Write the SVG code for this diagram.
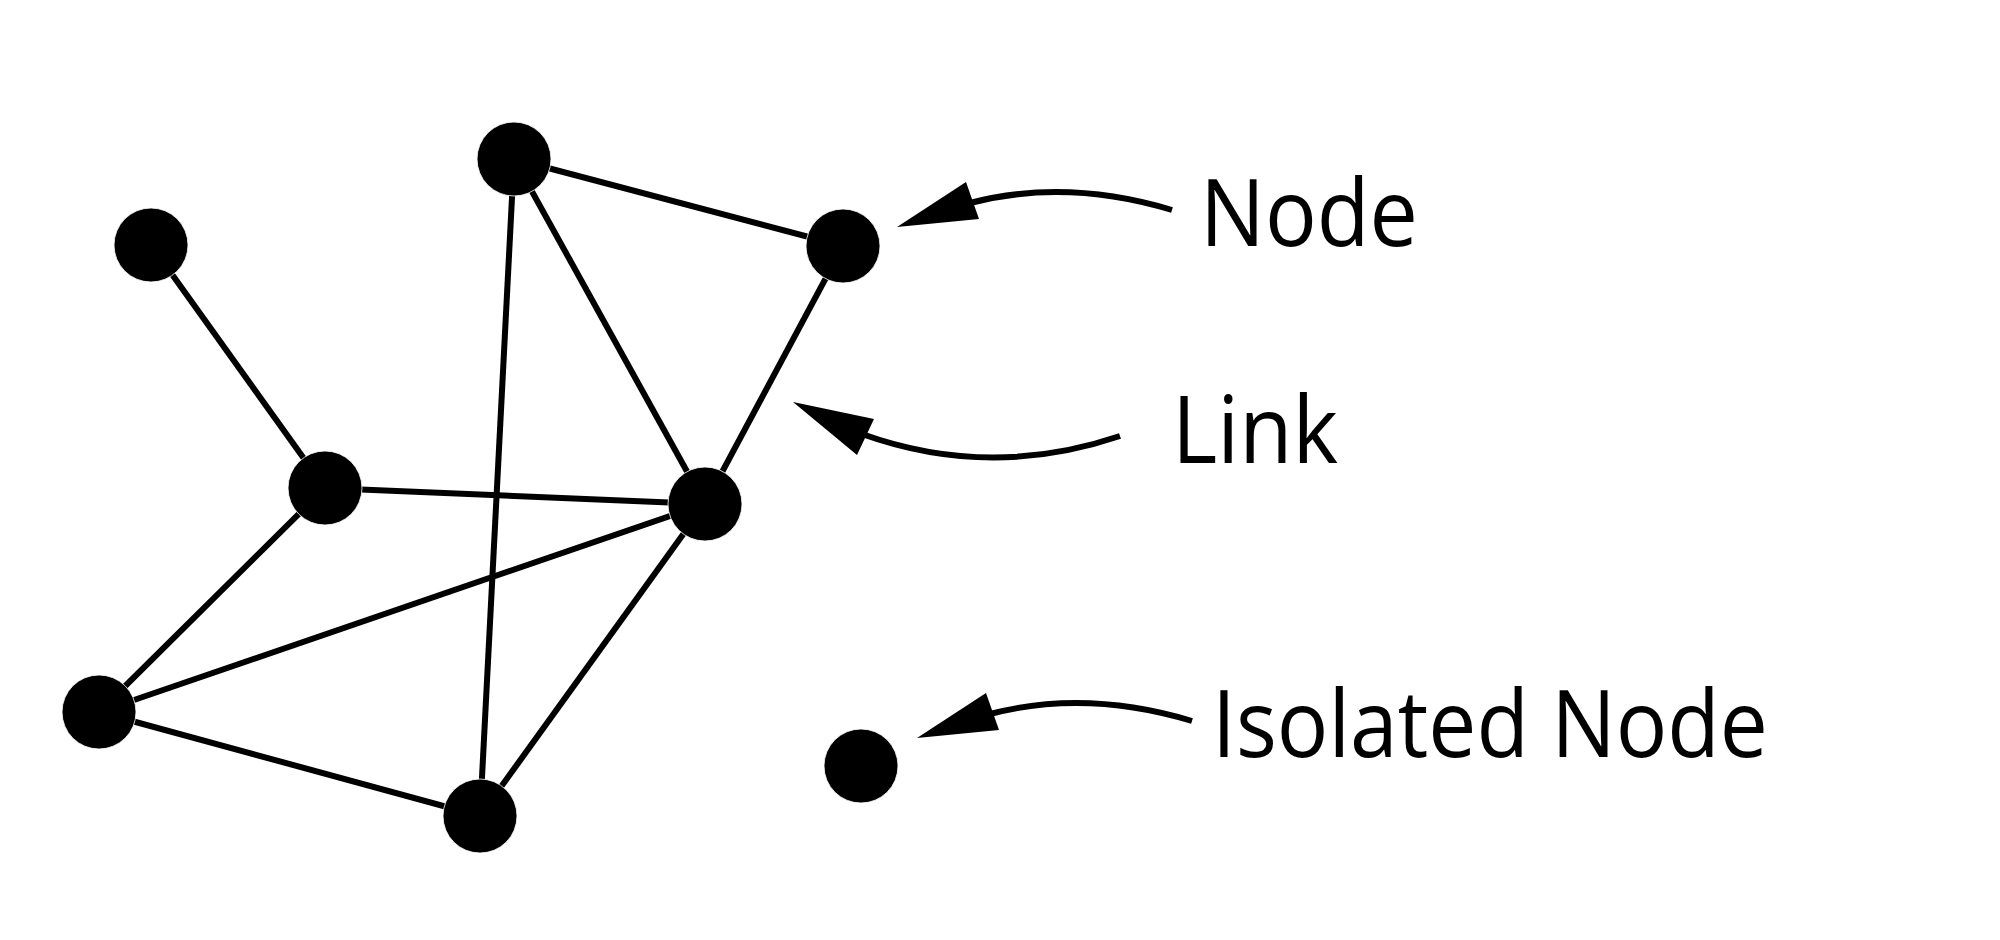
<svg xmlns="http://www.w3.org/2000/svg" width="2000" height="940" viewBox="0 0 2000 940">
<style>
.edge{stroke:#000;stroke-width:6;fill:none}
.node{fill:#000;stroke:#fff;stroke-width:0.8}
.pointer{stroke:#000;stroke-width:6;fill:none}
.head{fill:#000}
.lbl{font-family:"Open Sans","Liberation Sans",sans-serif;font-size:94px;fill:#000}
</style>
<rect width="2000" height="940" fill="#fff"/>
<g id="connectors">
<line class="edge" x1="514" y1="159" x2="843" y2="246"/>
<line class="edge" x1="514" y1="159" x2="705" y2="504"/>
<line class="edge" x1="514" y1="159" x2="480" y2="816"/>
<line class="edge" x1="843" y1="246" x2="705" y2="504"/>
<line class="edge" x1="151" y1="245" x2="325" y2="488"/>
<line class="edge" x1="325" y1="488" x2="705" y2="504"/>
<line class="edge" x1="325" y1="488" x2="99" y2="712"/>
<line class="edge" x1="705" y1="504" x2="99" y2="712"/>
<line class="edge" x1="705" y1="504" x2="480" y2="816"/>
<line class="edge" x1="99" y1="712" x2="480" y2="816"/>
</g>
<g id="node-a"><circle class="node" cx="514" cy="159" r="37"/></g>
<g id="node-b"><circle class="node" cx="843" cy="246" r="37"/></g>
<g id="node-c"><circle class="node" cx="151" cy="245" r="37"/></g>
<g id="node-d"><circle class="node" cx="325" cy="488" r="37"/></g>
<g id="node-e"><circle class="node" cx="705" cy="504" r="37"/></g>
<g id="node-f"><circle class="node" cx="99" cy="712" r="37"/></g>
<g id="node-g"><circle class="node" cx="480" cy="816" r="37"/></g>
<g id="node-h"><circle class="node" cx="861" cy="766" r="37"/></g>
<g id="label-node">
<path class="pointer" d="M 970 203 Q 1066 178 1172 210"/>
<polygon class="head" points="897,227 966,182 979,219"/>
<text class="lbl" x="1200" y="246" textLength="218" lengthAdjust="spacingAndGlyphs">Node</text>
</g>
<g id="label-link">
<path class="pointer" d="M 862 434 Q 990 480 1120 436"/>
<polygon class="head" points="793,402 874,419 857,455"/>
<text class="lbl" x="1172" y="463" textLength="166" lengthAdjust="spacingAndGlyphs">Link</text>
</g>
<g id="label-isolated">
<path class="pointer" d="M 990 714 Q 1086 689 1192 721"/>
<polygon class="head" points="917,738 986,693 999,730"/>
<text class="lbl" x="1212" y="757" textLength="556" lengthAdjust="spacingAndGlyphs">Isolated Node</text>
</g>
</svg>
